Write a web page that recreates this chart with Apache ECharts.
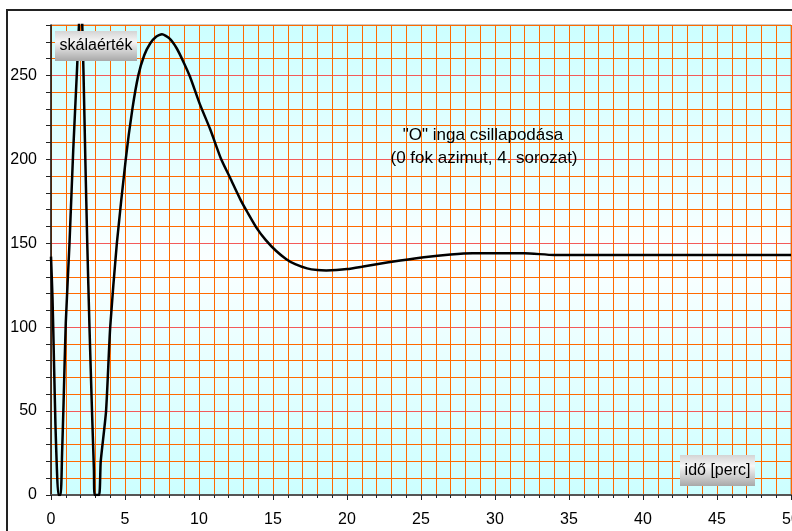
<!DOCTYPE html>
<html>
<head>
<meta charset="utf-8">
<script src="https://cdn.jsdelivr.net/npm/echarts@6/dist/echarts.min.js"></script>
<style>
  html, body { margin: 0; padding: 0; background: #fff; }
  #chart { width: 792px; height: 531px; }
</style>
</head>
<body>
<div id="chart"></div>
<script>
// time in minutes, scale reading
const times = [0, 0.1, 0.2, 0.3, 0.4, 0.5, 0.65, 0.75, 0.85, 1.0, 1.25, 1.5, 1.75, 1.9, 2.0, 2.1, 2.2, 2.32, 2.45, 2.6, 2.77, 2.9, 2.95, 3.25, 3.36, 3.72, 4.0, 4.45, 5.05, 5.5, 5.9, 6.3, 6.7, 7.1, 7.5, 8.0, 8.5, 8.95, 9.4, 10.05, 10.75, 11.5, 12.1, 12.8, 13.3, 13.9, 14.5, 15.2, 15.9, 16.5, 17.3, 18.0, 18.6, 19.3, 20.0, 21.0, 21.8, 23.6, 25.2, 27.0, 28.5, 30, 32, 34, 36, 40, 45, 50]
const values = [142, 118, 80, 42, 15, 0, 0, 25, 55, 103, 150, 205, 252, 282, 300, 284, 250, 200, 150, 100, 50, 15, 0, 0, 20, 50, 100, 150, 200, 230, 250, 262, 269, 273, 274.5, 272, 266, 258, 249, 233, 218, 200, 189, 176, 168, 159, 152, 145.5, 140.5, 137.5, 135, 134, 133.8, 134, 134.6, 136, 137.2, 139.7, 141.7, 143.3, 144, 144, 144, 143, 143, 143, 143, 143]
const yTickLabels = [0, 50, 100, 150, 200, 250]
const xTickLabels = [0, 5, 10, 15, 20, 25, 30, 35, 40, 45, 50]

const yTitle = 'skálaérték'
const xTitle = 'idő [perc]'
const note = ['"O" inga csillapodása', '(0 fok azimut, 4. sorozat)']

const orange = '#ff6a00'
const red = '#f25a5a'
const font = '"Liberation Sans", Arial, sans-serif'

const boxFill = {
  type: 'linear', x: 0, y: 0, x2: 0, y2: 1,
  colorStops: [
    { offset: 0, color: '#d4d4d4' },
    { offset: 0.35, color: '#f6f6f6' },
    { offset: 1, color: '#a8a8a8' }
  ]
}

const chart = echarts.init(document.getElementById('chart'))

const option = {
  animation: false,
  grid: {
    left: 51,
    top: 25,
    right: 1,
    bottom: 36,
    outerBoundsMode: 'none',
    show: true,
    borderColor: '#a09080',
    borderWidth: 1,
    backgroundColor: {
      type: 'linear', x: 0, y: 0, x2: 0, y2: 1,
      colorStops: [
        { offset: 0, color: '#ccffff' },
        { offset: 0.5, color: '#fbffff' },
        { offset: 1, color: '#ccffff' }
      ]
    }
  },
  xAxis: {
    type: 'value',
    min: 0,
    max: 50,
    interval: 5,
    axisLine: { show: true, onZero: false, lineStyle: { color: '#555', width: 2 } },
    axisTick: { show: true, length: 5, lineStyle: { color: '#222' } },
    minorTick: { show: true, splitNumber: 5, length: 3, lineStyle: { color: '#222' } },
    splitLine: { show: true, lineStyle: { color: orange, width: 1 } },
    minorSplitLine: { show: true, lineStyle: { color: orange, width: 1 } },
    axisLabel: {
      customValues: xTickLabels,
      color: '#000',
      fontFamily: font,
      fontSize: 16,
      margin: 17
    }
  },
  yAxis: {
    type: 'value',
    min: 0,
    max: 280,
    interval: 10,
    axisLine: { show: true, onZero: false, lineStyle: { color: '#111', width: 1.5 } },
    axisTick: { show: true, length: 5, lineStyle: { color: '#222' } },
    splitLine: { show: true, lineStyle: { color: [red, orange, orange, orange, orange], width: 1 } },
    axisLabel: {
      customValues: yTickLabels,
      color: '#000',
      fontFamily: font,
      fontSize: 16,
      margin: 14
    }
  },
  series: [
    {
      type: 'line',
      data: times.map((t, i) => [t, values[i]]),
      showSymbol: false,
      smooth: 0.2,
      clip: true,
      lineStyle: { color: '#000', width: 2.5 }
    }
  ],
  graphic: [
    {
      type: 'rect',
      z: 100,
      shape: { x: 7, y: 10, width: 900, height: 700 },
      style: { fill: null, stroke: '#222', lineWidth: 2 },
      silent: true
    },
    {
      type: 'group',
      z: 100,
      left: 55,
      top: 31,
      children: [
        { type: 'rect', z: 100, shape: { x: 0, y: 0, width: 82, height: 30 }, style: { fill: boxFill } },
        { type: 'text', z: 101, x: 41, y: 15, style: { text: yTitle, font: '16px ' + font, fill: '#000', align: 'center', verticalAlign: 'middle' } }
      ]
    },
    {
      type: 'group',
      z: 100,
      left: 680,
      top: 455,
      children: [
        { type: 'rect', z: 100, shape: { x: 0, y: 0, width: 75, height: 31 }, style: { fill: boxFill } },
        { type: 'text', z: 101, x: 37.5, y: 15.5, style: { text: xTitle, font: '16px ' + font, fill: '#000', align: 'center', verticalAlign: 'middle' } }
      ]
    },
    {
      type: 'text',
      z: 100,
      x: 483, y: 135,
      style: { text: note[0], font: '17px ' + font, fill: '#000', align: 'center', verticalAlign: 'middle' }
    },
    {
      type: 'text',
      z: 100,
      x: 484, y: 158,
      style: { text: note[1], font: '17px ' + font, fill: '#000', align: 'center', verticalAlign: 'middle' }
    }
  ]
}

chart.setOption(option)
</script>
</body>
</html>
